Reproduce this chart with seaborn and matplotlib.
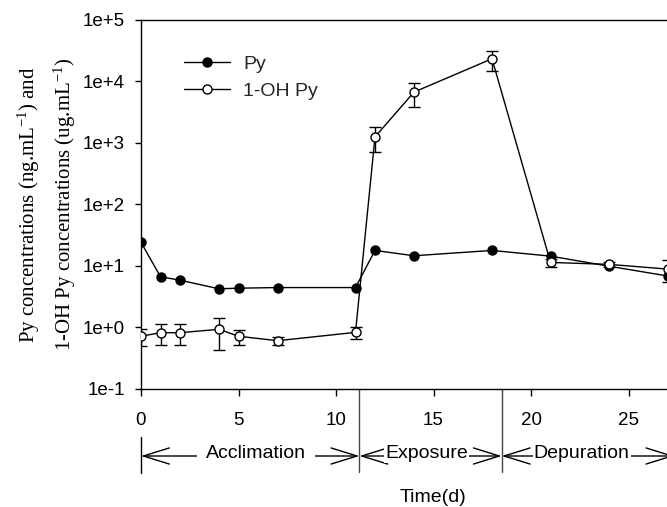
import matplotlib
matplotlib.use("Agg")
import matplotlib.pyplot as plt
import seaborn as sns
import numpy as np
import pandas as pd

# Sampling days (d)
days = [0, 1, 2, 4, 5, 7, 11, 12, 14, 18, 21, 24, 27]

# Pyrene concentration (ng/mL)
py_conc = [24, 6.6, 5.8, 4.2, 4.3, 4.4, 4.4, 17.7, 14.5, 17.7, 14.3, 9.8, 6.8]

# 1-hydroxypyrene concentration (ug/mL) and its error
oh_conc = [0.71, 0.81, 0.81, 0.92, 0.71, 0.60, 0.82, 1250, 6700, 23400, 11.3, 10.5, 8.8]
oh_err = [0.21, 0.3, 0.3, 0.5, 0.2, 0.08, 0.18, 550, 2800, 8400, 1.7, 1.0, 3.4]

# Experimental phases: (label, start day, end day, label centre)
phase_names = ["Acclimation", "Exposure", "Depuration"]
phase_start = [0, 11.2, 18.5]
phase_end = [11.2, 18.5, 27.35]
phase_label_x = [5.9, 14.65, 22.6]

y_ticks = [1e-1, 1e0, 1e1, 1e2, 1e3, 1e4, 1e5]
y_tick_labels = ["1e-1", "1e+0", "1e+1", "1e+2", "1e+3", "1e+4", "1e+5"]
x_ticks = [0, 5, 10, 15, 20, 25]

sns.set_theme(style="ticks")
plt.rcParams["font.family"] = ["Liberation Sans", "DejaVu Sans"]
plt.rcParams["mathtext.fontset"] = "custom"
plt.rcParams["mathtext.rm"] = "Liberation Serif"
plt.rcParams["mathtext.it"] = "Liberation Serif:italic"

W, H = 667, 507
fig = plt.figure(figsize=(W / 100, H / 100), dpi=100)
ax_bottom = (H - 388.5) / H
ax_height = (388.5 - 20) / H
ax = fig.add_axes([141 / W, ax_bottom, 585 / W, ax_height])

df = pd.DataFrame({"day": days, "py": py_conc, "oh": oh_conc})

# error bars for 1-OH Py (drawn under the markers)
ax.errorbar(days, oh_conc, yerr=oh_err, fmt="none", ecolor="black",
            elinewidth=1, capsize=4, capthick=1, zorder=2)

sns.lineplot(data=df, x="day", y="py", ax=ax, color="black", lw=1,
             marker="o", markersize=6.5, markerfacecolor="black",
             markeredgecolor="black", markeredgewidth=1, sort=False,
             errorbar=None, label="Py", zorder=3, legend=False)
sns.lineplot(data=df, x="day", y="oh", ax=ax, color="black", lw=1,
             marker="o", markersize=6.5, markerfacecolor="white",
             markeredgecolor="black", markeredgewidth=1, sort=False,
             errorbar=None, label="1-OH Py", zorder=4, legend=False)
data_lines = [l for l in ax.lines if l.get_label() in ("Py", "1-OH Py")]

ax.set_yscale("log")
ax.set_ylim(1e-1, 1e5)
ax.set_xlim(0, 30)
ax.yaxis.set_major_locator(matplotlib.ticker.FixedLocator(y_ticks))
ax.yaxis.set_minor_locator(matplotlib.ticker.NullLocator())
ax.set_yticklabels(y_tick_labels)
ax.set_xticks(x_ticks)
ax.set_xticklabels([str(t) for t in x_ticks])

ax.tick_params(axis="both", which="major", direction="out", color="black",
               width=1, labelsize=13.5, labelcolor="black")
ax.tick_params(axis="y", length=4.5, pad=7)
ax.tick_params(axis="x", length=5, pad=12)
for side in ["left", "bottom", "top", "right"]:
    ax.spines[side].set_color("black")
    ax.spines[side].set_linewidth(1)
ax.grid(False)

ax.set_xlabel("Time(d)", fontsize=14, color="black")
ax.xaxis.set_label_coords(0.5, ((H - 497) - ax_bottom * H) / (ax_height * H))
ax.xaxis.label.set_va("center")

ax.set_ylabel("Py concentrations (ng.mL$^{\\mathrm{-1}}$) and\n"
              "1-OH Py concentrations (ug.mL$^{\\mathrm{-1}}$)",
              fontsize=15, family="Liberation Serif", color="black",
              linespacing=1.55)
ax.yaxis.set_label_coords((47 - 141) / 585, 0.5)
ax.yaxis.label.set_va("center")


def yfrac(py):
    return ((H - py) - ax_bottom * H) / (ax_height * H)


trans = ax.get_xaxis_transform()

# phase separators below the axis
ax.plot([0, 0], [yfrac(436.5), yfrac(473)], transform=trans, color="black",
        lw=1, clip_on=False)
for xb in phase_start[1:]:
    ax.plot([xb, xb], [0, yfrac(472)], transform=trans, color="#444444",
            lw=1, clip_on=False)

# phase arrows with labels
arrow_y = yfrac(456)
label_pads = [0.45, 0.05, 0.05]
for name, x0, x1, xl, pad in zip(phase_names, phase_start, phase_end,
                                 phase_label_x, label_pads):
    ax.annotate("", xy=(x1, arrow_y), xytext=(x0, arrow_y),
                xycoords=trans, textcoords=trans, annotation_clip=False,
                arrowprops=dict(arrowstyle="<->,head_length=1.87,head_width=0.58",
                                mutation_scale=10, lw=1, color="black",
                                shrinkA=0, shrinkB=0))
    ax.text(xl, yfrac(454), name, transform=trans, ha="center", va="center",
            fontsize=14, color="black", clip_on=False, zorder=5,
            bbox=dict(facecolor="white", edgecolor="none", pad=0,
                      boxstyle=f"square,pad={pad}"))

leg = ax.legend(handles=data_lines, labels=["Py", "1-OH Py"],
                loc="upper left", bbox_to_anchor=(184 / W, 1 - 55 / H),
                bbox_transform=fig.transFigure, frameon=False, fontsize=14,
                handlelength=2.36, handletextpad=0.67, labelspacing=0.5,
                borderpad=0, borderaxespad=0)

fig.savefig("out.png", dpi=100)
